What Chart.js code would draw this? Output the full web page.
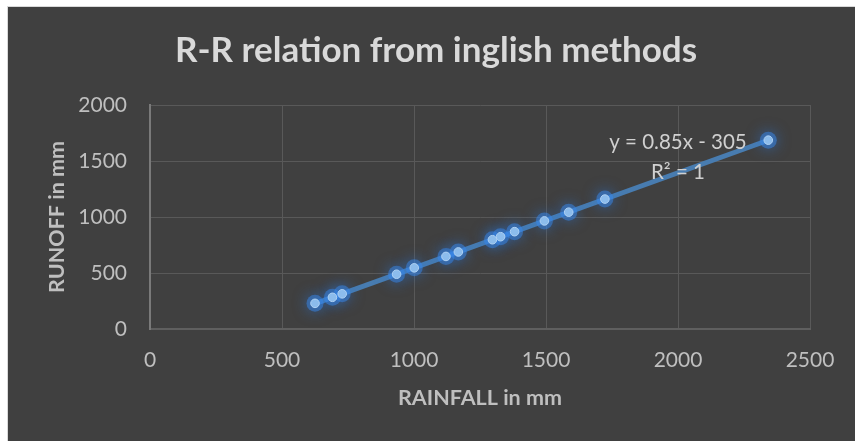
<!DOCTYPE html>
<html><head><meta charset="utf-8">
<script src="https://cdn.jsdelivr.net/npm/chart.js@4"></script>
<style>
html,body{margin:0;padding:0;background:#ffffff;}
#wrap{position:absolute;left:7px;top:6px;width:848px;height:435px;background:#404040;border-left:1px solid #d9d9d9;border-top:1px solid #d9d9d9;box-sizing:border-box;}
canvas{display:block}
</style></head><body>
<div id="wrap"><canvas id="c" width="847" height="434"></canvas></div>
<script>
const chartTitle = "R-R relation from inglish methods";
const xTitle = "RAINFALL in mm";
const yTitle = "RUNOFF in mm";
const rainfall = [625, 691, 728, 934, 1001, 1121, 1168, 1297, 1328, 1381, 1494, 1586, 1723, 2342];
const runoff   = [229, 283, 314, 489, 546, 648, 688, 797, 824, 869, 965, 1043, 1160, 1686];
const xTicks = [0, 500, 1000, 1500, 2000, 2500];
const yTicks = [0, 500, 1000, 1500, 2000];
const trendLabel = ["y = 0.85x - 305", "R\u00B2 = 1"];

// least-squares trendline through the data (as Excel's linear trendline)
const n = rainfall.length;
const mx = rainfall.reduce((a,b)=>a+b,0)/n;
const my = runoff.reduce((a,b)=>a+b,0)/n;
let sxy=0, sxx=0;
for(let i=0;i<n;i++){ sxy+=(rainfall[i]-mx)*(runoff[i]-my); sxx+=(rainfall[i]-mx)**2; }
const slope = sxy/sxx, icpt = my - slope*mx;
const xMin = Math.min(...rainfall), xMax = Math.max(...rainfall);
const trendData = [{x:xMin, y:icpt+slope*xMin},{x:xMax, y:icpt+slope*xMax}];
const pts = rainfall.map((x,i)=>({x, y:runoff[i]}));

const glow = {
  id:'glow',
  beforeDatasetDraw(chart,args){ if(args.index===1){ const c=chart.ctx; c.save(); c.shadowColor='rgba(40,125,240,1)'; c.shadowBlur=14; } },
  afterDatasetDraw(chart,args){ if(args.index===1){ chart.ctx.restore(); } }
};
const eqLabel = {
  id:'eqLabel',
  afterDatasetsDraw(chart){
    const a = chart.chartArea, c = chart.ctx;
    c.save();
    c.fillStyle = '#d0d0d0';
    c.font = '20.5px Lato';
    c.textAlign = 'center'; c.textBaseline = 'middle';
    const x = a.left + (a.right-a.left)*0.8;
    c.fillText(trendLabel[0], x, a.top + 37);
    c.fillText(trendLabel[1], x, a.top + 67);
    c.restore();
  }
};

const tickFont = {family:'Lato', size:21};
const titleFont = {family:'Lato', size:21.5, weight:'bold'};
const noComma = v => String(v);

new Chart(document.getElementById('c'), {
  type:'scatter',
  data:{ datasets:[
    { type:'scatter', data: pts,
      backgroundColor:'#8cbcec', borderColor:'#b0d2f4', borderWidth:1, pointRadius:4.3 },
    { type:'scatter', data: pts,
      backgroundColor:'rgba(55,135,235,0.5)', borderWidth:0, pointRadius:8.5 },
    { type:'line', data: trendData, borderColor:'rgba(72,124,176,1)', borderWidth:5,
      pointRadius:0, fill:false, tension:0 }
  ]},
  options:{
    responsive:false, animation:false,
    layout:{ padding:{ left:9, right:0, top:0, bottom:0 } },
    plugins:{
      legend:{display:false}, tooltip:{enabled:false},
      title:{ display:true, text:chartTitle, color:'#d9d9d9',
        font:{family:'Lato', size:35, weight:'bold'}, padding:{top:22.5, bottom:33.5} }
    },
    scales:{
      x:{ type:'linear', min:0, max:2500,
        afterBuildTicks(s){ s.ticks = xTicks.map(v=>({value:v})); },
        afterFit(s){ s.height = 112; },
        ticks:{ color:'#bfbfbf', font:tickFont, padding:19, callback:noComma },
        grid:{ color:'#595959', lineWidth:1, drawTicks:false },
        border:{ color:'#5f5f5f', width:2 },
        title:{ display:true, text:xTitle, color:'#bfbfbf', font:titleFont, padding:{top:0, bottom:30} } },
      y:{ type:'linear', min:0, max:2000,
        afterBuildTicks(s){ s.ticks = yTicks.map(v=>({value:v})); },
        afterFit(s){ s.width = 133; },
        ticks:{ color:'#bfbfbf', font:tickFont, padding:23, callback:noComma },
        grid:{ color:'#595959', lineWidth:1, drawTicks:false },
        border:{ color:'#7a7a7a', width:2 },
        title:{ display:true, text:yTitle, color:'#bfbfbf', font:titleFont, padding:{top:27, bottom:0} } },
      ySpace:{ type:'linear', position:'right', min:0, max:2000,
        afterFit(s){ s.width = 45; },
        ticks:{ display:false }, grid:{ display:false, drawOnChartArea:false }, border:{ display:false } }
    }
  },
  plugins:[glow, eqLabel]
});
</script>
</body></html>
